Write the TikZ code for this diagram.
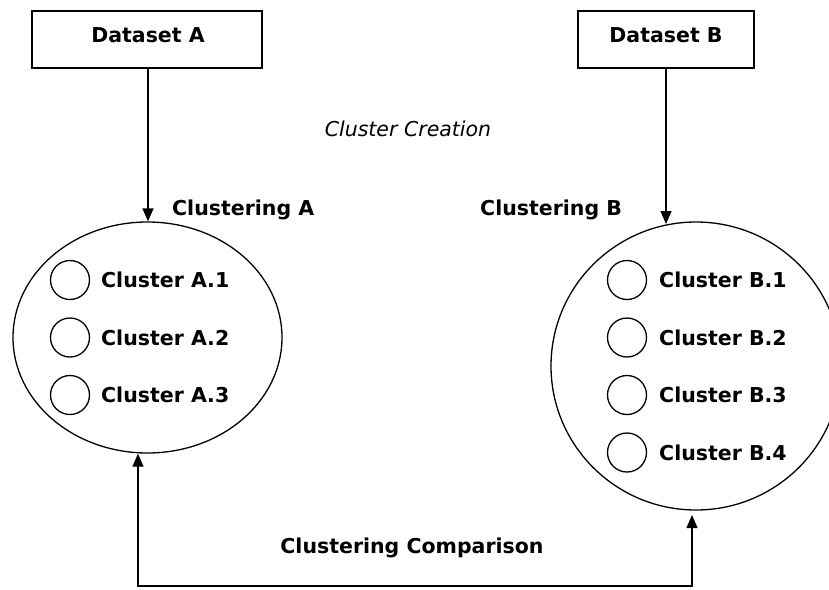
\documentclass[tikz,border=0pt]{standalone}
\usepackage{fontspec}
\setmainfont{DejaVu Sans}
\usetikzlibrary{shapes.geometric,arrows.meta}
\tikzset{
  box/.style={draw, line width=1.3pt, rectangle, inner sep=0pt},
  bigell/.style={draw, line width=1.3pt, ellipse, inner sep=0pt},
  dot/.style={draw, line width=1.3pt, circle, inner sep=0pt, minimum size=39pt},
  lbl/.style={inner sep=0pt, font=\fontsize{20.5}{24}\selectfont\bfseries},
  ilbl/.style={inner sep=0pt, font=\fontsize{20.5}{24}\selectfont\itshape},
  conn/.style={line width=1.3pt, -{Triangle[length=13pt,width=11pt]}},
  dconn/.style={line width=1.3pt, {Triangle[length=13pt,width=11pt]}-{Triangle[length=13pt,width=11pt]}}
}
\begin{document}
\begin{tikzpicture}[x=1pt,y=-1pt]
\useasboundingbox (0,0) rectangle (829,589);
% dataset boxes
\node[box, minimum width=230pt, minimum height=57pt] (dA) at (147,39.5) {};
\node[lbl, anchor=base] (dAt) at (148,42) {Dataset A};
\node[box, minimum width=176pt, minimum height=57pt] (dB) at (666,39.5) {};
\node[lbl, anchor=base] (dBt) at (666,42) {Dataset B};
% ellipses
\node[bigell, minimum width=269pt, minimum height=231pt] (eA) at (147.5,337.5) {};
\node[bigell, minimum width=290pt, minimum height=288pt] (eB) at (696,366) {};
% labels
\node[ilbl, anchor=base] (cc) at (408,136) {Cluster Creation};
\node[lbl, anchor=base west] (clA) at (172,215) {Clustering A};
\node[lbl, anchor=base west] (clB) at (480,215) {Clustering B};
\node[lbl, anchor=base] (cmp) at (412,553) {Clustering Comparison};
% clusters A
\foreach \i/\y in {1/280,2/337.5,3/395}{
  \node[dot] (ca\i) at (70,\y) {};
  \node[lbl, anchor=west] (cat\i) at (101,\y) {Cluster A.\i};
}
% clusters B
\foreach \i/\y in {1/280,2/337.5,3/395,4/452.5}{
  \node[dot] (cb\i) at (627,\y) {};
  \node[lbl, anchor=west] (cbt\i) at (659,\y) {Cluster B.\i};
}
% top arrows
\draw[conn] (dAt |- dA.south) -- (dAt |- eA.north);
\coordinate (tB) at (666,224);
\draw[conn] (tB |- dB.south) -- (tB);
% bottom connector
\coordinate (cl) at (138,586);
\coordinate (cr) at (692,586);
\coordinate (pB) at (692,515);
\draw[dconn] (eA.south -| cl) -- (cl) -- (cr) -- (pB);
\end{tikzpicture}
\end{document}
